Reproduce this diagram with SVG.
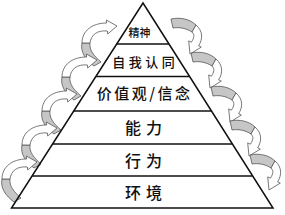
<svg xmlns="http://www.w3.org/2000/svg" xmlns:xlink="http://www.w3.org/1999/xlink" width="285" height="215" viewBox="0 0 285 215">
<style>
.edge{fill:none;stroke:#111;stroke-width:1.5;stroke-linejoin:miter}
.tier{stroke:#111;stroke-width:1.5}
.lbl{font-family:"Noto Sans CJK SC","Noto Sans CJK JP",sans-serif;font-weight:500;fill:#111;text-anchor:middle}
.back{fill:#c6c6c6;stroke:#555;stroke-width:0.8;stroke-linejoin:round}
.front{fill:#fff;stroke:#555;stroke-width:0.8;stroke-linejoin:round}
</style>
<defs>
<g id="la">
<path class="back" d="M82,43 C80,52 86,60 94,66 L101,62 C94,56 89,50 90,43 Z"/>
<path class="front" d="M82,43 C82,31 92,23 106.6,23 L106.3,20 L117,26 L107.7,34 L107.4,31 C97,30 91,35 90,43 Z"/>
</g>
<g id="ra">
<path class="back" d="M171,19 C180,17 190,19 196,25 L192,32 C186,28 179,27 173,28 Z"/>
<path class="front" d="M196,25 C203,31 203,39 198.6,45.8 L201.3,47.1 L190,54 L188.7,40.9 L191.4,42.2 C194,38 195,35 192,32 Z"/>
</g>
</defs>
<rect width="285" height="215" fill="#fff"/>
<g id="connectors">
<use xlink:href="#la"/>
<use xlink:href="#la" transform="translate(-20,34)"/>
<use xlink:href="#la" transform="translate(-40,68)"/>
<use xlink:href="#la" transform="translate(-60,102)"/>
<use xlink:href="#la" transform="translate(-80,136)"/>
<use xlink:href="#ra"/>
<use xlink:href="#ra" transform="translate(20,34)"/>
<use xlink:href="#ra" transform="translate(40,68)"/>
<use xlink:href="#ra" transform="translate(59,102)"/>
<use xlink:href="#ra" transform="translate(79,136)"/>
</g>
<g id="pyramid">
<polygon class="edge" points="143,3 11.5,208 273,208"/>
</g>
<g id="spirit">
<text class="lbl" x="139.5" y="36.7" font-size="11">精神</text>
</g>
<g id="identity">
<line class="tier" x1="116.7" y1="44" x2="169" y2="44"/>
<text class="lbl" x="145.2" y="67" font-size="13" letter-spacing="3.5">自我认同</text>
</g>
<g id="values">
<line class="tier" x1="96.2" y1="76.5" x2="189.3" y2="76.5"/>
<text class="lbl" x="144.7" y="99" font-size="15" letter-spacing="2.5">价值观/信念</text>
</g>
<g id="ability">
<line class="tier" x1="73.7" y1="111" x2="211.5" y2="111"/>
<text class="lbl" x="146" y="134" font-size="16" letter-spacing="5">能力</text>
</g>
<g id="behavior">
<line class="tier" x1="52.5" y1="144" x2="232.4" y2="144"/>
<text class="lbl" x="146" y="166.5" font-size="16" letter-spacing="5">行为</text>
</g>
<g id="environment">
<line class="tier" x1="32" y1="176" x2="252.7" y2="176"/>
<text class="lbl" x="146" y="198.5" font-size="16" letter-spacing="5">环境</text>
</g>
</svg>
